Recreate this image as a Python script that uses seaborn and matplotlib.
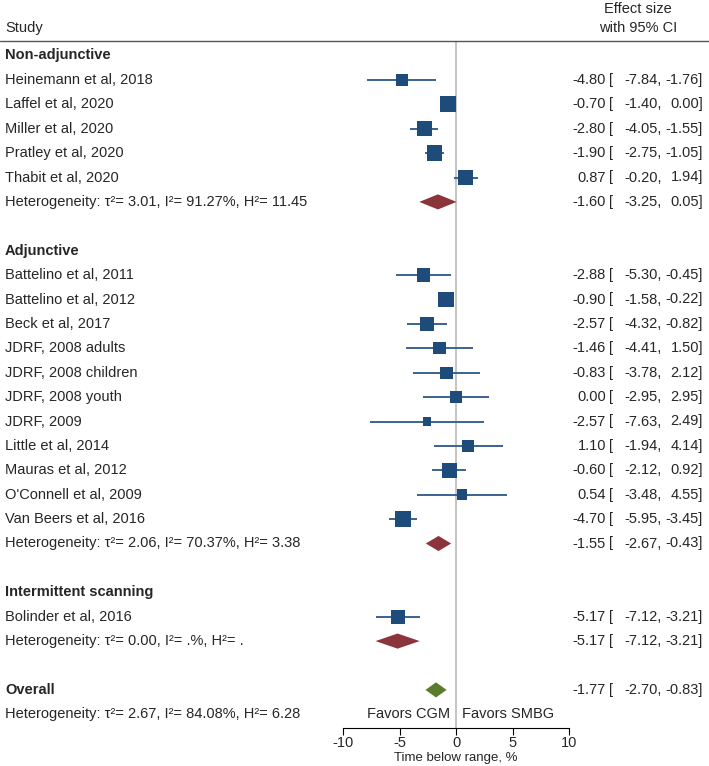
import numpy as np
import pandas as pd
import seaborn as sns
import matplotlib.pyplot as plt
from matplotlib.lines import Line2D
from matplotlib.transforms import blended_transform_factory

# study level data
groups = ["Non-adjunctive", "Adjunctive", "Intermittent scanning"]
studies = [
    ["Heinemann et al, 2018", "Laffel et al, 2020", "Miller et al, 2020",
     "Pratley et al, 2020", "Thabit et al, 2020"],
    ["Battelino et al, 2011", "Battelino et al, 2012", "Beck et al, 2017",
     "JDRF, 2008 adults", "JDRF, 2008 children", "JDRF, 2008 youth",
     "JDRF, 2009", "Little et al, 2014", "Mauras et al, 2012",
     "O'Connell et al, 2009", "Van Beers et al, 2016"],
    ["Bolinder et al, 2016"],
]
est = [[-4.80, -0.70, -2.80, -1.90, 0.87],
       [-2.88, -0.90, -2.57, -1.46, -0.83, 0.00, -2.57, 1.10, -0.60, 0.54, -4.70],
       [-5.17]]
lo = [[-7.84, -1.40, -4.05, -2.75, -0.20],
      [-5.30, -1.58, -4.32, -4.41, -3.78, -2.95, -7.63, -1.94, -2.12, -3.48, -5.95],
      [-7.12]]
hi = [[-1.76, 0.00, -1.55, -1.05, 1.94],
      [-0.45, -0.22, -0.82, 1.50, 2.12, 2.95, 2.49, 4.14, 0.92, 4.55, -3.45],
      [-3.21]]
weights = [[4.4, 7.8, 6.9, 7.3, 6.9],
           [5.4, 7.8, 6.6, 4.6, 4.6, 4.6, 2.3, 4.4, 6.9, 3.5, 7.1],
           [6.0]]
pooled_est = [-1.60, -1.55, -5.17]
pooled_lo = [-3.25, -2.67, -7.12]
pooled_hi = [0.05, -0.43, -3.21]
het_text = ["Heterogeneity: τ²= 3.01, I²= 91.27%, H²= 11.45",
            "Heterogeneity: τ²= 2.06, I²= 70.37%, H²= 3.38",
            "Heterogeneity: τ²= 0.00, I²= .%, H²= ."]
overall = (-1.77, -2.70, -0.83)
overall_het = "Heterogeneity: τ²= 2.67, I²= 84.08%, H²= 6.28"

W, H = 709, 766
fs = 10.5
sq_col = "#1d4c7a"
ci_col = "#3a6390"
red = "#8c343c"
green = "#5b7b2d"

sns.set_style("white")
plt.rcParams["font.family"] = ["Liberation Sans", "DejaVu Sans"]
plt.rcParams["axes.unicode_minus"] = False

# lay out the rows
rows = []
r = 0
for g, name in enumerate(groups):
    rows.append(dict(kind="group", row=r, label=name)); r += 1
    for i, s in enumerate(studies[g]):
        rows.append(dict(kind="study", row=r, label=s, est=est[g][i], lo=lo[g][i],
                         hi=hi[g][i], w=weights[g][i])); r += 1
    rows.append(dict(kind="pooled", row=r, label=het_text[g], est=pooled_est[g],
                     lo=pooled_lo[g], hi=pooled_hi[g], color=red)); r += 2
rows.append(dict(kind="overall", row=r, label="Overall", est=overall[0],
                 lo=overall[1], hi=overall[2], color=green))
rows.append(dict(kind="text", row=r + 1, label=overall_het))
df = pd.DataFrame(rows)

fig = plt.figure(figsize=(W / 100, H / 100), dpi=100)
y0, step = 55.5, 24.4
top_px, bot_px = 41, 728
ax = fig.add_axes([343 / W, (H - bot_px) / H, 226 / W, (bot_px - top_px) / H])
ax.set_xlim(-10, 10)
ax.set_ylim((bot_px - y0) / step, (top_px - y0) / step)

ax.axvline(0, color="#c4c4c4", lw=1.4, zorder=0)

st = df[df.kind == "study"]
ax.hlines(st.row, st.lo, st.hi, color=ci_col, lw=1.4, zorder=1)
sns.scatterplot(data=st, x="est", y="row", size="w", sizes=(0, 170), size_norm=(0, 10),
                marker="s", color=sq_col, linewidth=0, legend=False, ax=ax, zorder=2)

hh = 0.31
for _, d in df[df.kind.isin(["pooled", "overall"])].iterrows():
    ax.fill([d.lo, d.est, d.hi, d.est], [d.row, d.row - hh, d.row, d.row + hh],
            color=d.color, lw=0, zorder=2)

ax.set_xticks([-10, -5, 0, 5, 10])
ax.set_yticks([])
ax.set_xlabel("Time below range, %", fontsize=9.5, labelpad=1)
ax.set_ylabel("")
ax.tick_params(axis="x", labelsize=fs, length=5, width=0.8, color="black", pad=1,
               bottom=True)
for sp in ["left", "right", "top"]:
    ax.spines[sp].set_visible(False)
ax.spines["bottom"].set_color("black")
ax.spines["bottom"].set_linewidth(0.8)

# left labels and right effect columns
tr = blended_transform_factory(fig.transFigure, ax.transData)
for _, d in df.iterrows():
    bold = d.kind in ("group", "overall")
    ax.text(5 / W, d.row, d.label, transform=tr, ha="left", va="center", fontsize=fs,
            fontweight="bold" if bold else "normal", clip_on=False)
    if d.kind in ("study", "pooled", "overall"):
        ax.text(606 / W, d.row, f"{d.est:.2f}", transform=tr, ha="right", va="center",
                fontsize=fs, clip_on=False)
        ax.text(609 / W, d.row, "[", transform=tr, ha="left", va="center",
                fontsize=fs, clip_on=False)
        ax.text(662 / W, d.row, f"{d.lo:.2f},", transform=tr, ha="right", va="center",
                fontsize=fs, clip_on=False)
        ax.text(703 / W, d.row, f"{d.hi:.2f}]", transform=tr, ha="right", va="center",
                fontsize=fs, clip_on=False)

fav_row = df.row.max()
ax.text(-0.5, fav_row, "Favors CGM", ha="right", va="center", fontsize=fs, clip_on=False)
ax.text(0.5, fav_row, "Favors SMBG", ha="left", va="center", fontsize=fs, clip_on=False)

# header
fig.text(5 / W, 1 - 28 / H, "Study", ha="left", va="center", fontsize=fs)
fig.text(638 / W, 1 - 9 / H, "Effect size", ha="center", va="center", fontsize=fs)
fig.text(638 / W, 1 - 28 / H, "with 95% CI", ha="center", va="center", fontsize=fs)
fig.add_artist(Line2D([0, 1], [1 - top_px / H] * 2, color="#555555", lw=1.0,
                      transform=fig.transFigure))

fig.savefig("out.png", dpi=100)
